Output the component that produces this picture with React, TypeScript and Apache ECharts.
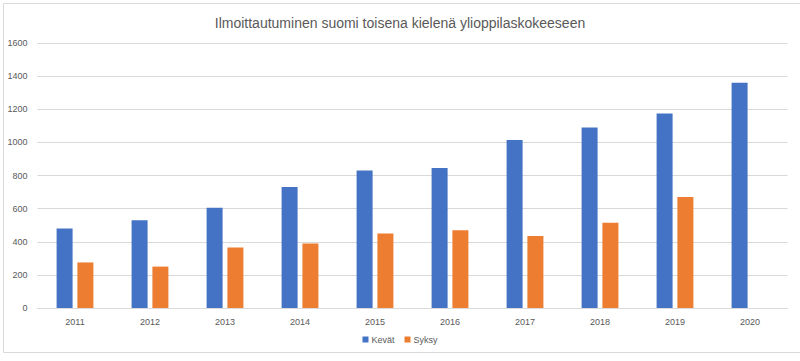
import React, { useEffect, useRef } from "react";
import * as echarts from "echarts";

const titleText = "Ilmoittautuminen suomi toisena kielenä ylioppilaskokeeseen";
const years = ["2011", "2012", "2013", "2014", "2015", "2016", "2017", "2018", "2019", "2020"];
const kevat = [480, 530, 605, 730, 830, 845, 1015, 1090, 1175, 1360];
const syksy = [275, 250, 365, 390, 450, 470, 435, 515, 670, null];
const seriesNames = ["Kevät", "Syksy"];
const colors = ["#4472C4", "#ED7D31"];

export default function App() {
  const ref = useRef<HTMLDivElement>(null);
  useEffect(() => {
    if (!ref.current) return;
    const chart = echarts.init(ref.current, null, { renderer: "svg" });
    const font = "'Liberation Sans', Arial, sans-serif";
    chart.setOption({
      animation: false,
      backgroundColor: "#ffffff",
      textStyle: { fontFamily: font },
      title: {
        text: titleText,
        left: "center",
        top: 11,
        textStyle: { fontSize: 14, fontWeight: "normal", color: "#595959", fontFamily: font },
      },
      legend: {
        data: seriesNames,
        bottom: 12,
        left: "center",
        itemWidth: 6,
        itemHeight: 6,
        itemGap: 10,
        icon: "rect",
        textStyle: { fontSize: 9, color: "#595959", fontFamily: font, padding: [0, 0, 0, -2] },
      },
      grid: { left: 37.5, right: 12.5, top: 43, bottom: 53, containLabel: false },
      xAxis: {
        type: "category",
        data: years,
        axisLine: { lineStyle: { color: "#d9d9d9" } },
        axisTick: { show: false },
        axisLabel: { fontSize: 9, color: "#595959", margin: 9, fontFamily: font },
      },
      yAxis: {
        type: "value",
        min: 0,
        max: 1600,
        interval: 200,
        axisLine: { show: false },
        axisTick: { show: false },
        axisLabel: {
          fontSize: 9,
          color: "#595959",
          margin: 10,
          fontFamily: font,
          formatter: (v: number) => String(v),
        },
        splitLine: { lineStyle: { color: "#d9d9d9" } },
      },
      series: [
        {
          name: seriesNames[0],
          type: "bar",
          data: kevat,
          barWidth: 16,
          barGap: "30%",
          itemStyle: { color: colors[0] },
        },
        {
          name: seriesNames[1],
          type: "bar",
          data: syksy,
          barWidth: 16,
          barGap: "30%",
          itemStyle: { color: colors[1] },
        },
      ],
      graphic: [
        {
          type: "rect",
          left: 1,
          top: 1,
          shape: { width: 797, height: 349 },
          style: { fill: "none", stroke: "#d9d9d9", lineWidth: 1 },
          silent: true,
        },
      ],
    });
    return () => chart.dispose();
  }, []);
  return (
    <div
      ref={ref}
      style={{ position: "fixed", left: 0, top: 0, width: 800, height: 361 }}
    />
  );
}
